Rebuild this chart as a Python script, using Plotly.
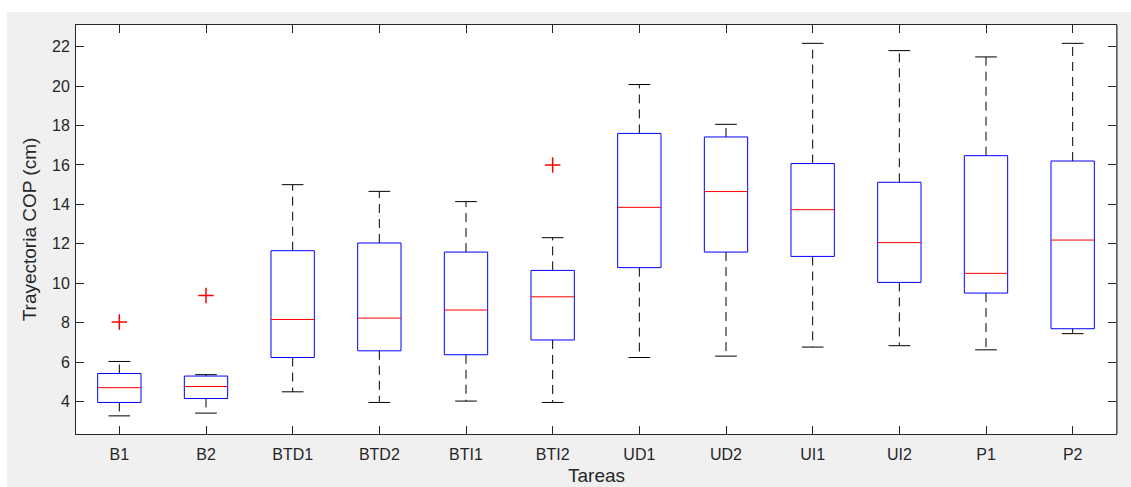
import plotly.graph_objects as go

categories = ["B1", "B2", "BTD1", "BTD2", "BTI1", "BTI2", "UD1", "UD2", "UI1", "UI2", "P1", "P2"]
lower_whisker = [3.27, 3.41, 4.49, 3.95, 4.02, 3.95, 6.23, 6.30, 6.76, 6.83, 6.62, 7.44]
q1 = [3.95, 4.15, 6.23, 6.57, 6.37, 7.12, 10.79, 11.58, 11.36, 10.04, 9.50, 7.69]
median = [4.70, 4.76, 8.16, 8.23, 8.64, 9.31, 13.85, 14.65, 13.73, 12.06, 10.50, 12.19]
q3 = [5.42, 5.29, 11.65, 12.04, 11.58, 10.65, 17.60, 17.42, 16.07, 15.12, 16.47, 16.20]
upper_whisker = [6.03, 5.36, 15.00, 14.66, 14.14, 12.31, 20.08, 18.06, 22.17, 21.80, 21.48, 22.17]
outlier_cat = ["B1", "B2", "BTI2"]
outlier_val = [8.03, 9.38, 16.0]

y_ticks = [4, 6, 8, 10, 12, 14, 16, 18, 20, 22]
BOX_W = 0.5
CAP_W = 0.25

pos = {c: i + 1 for i, c in enumerate(categories)}

wx, wy, cx, cy, bx, by, mx, my = [], [], [], [], [], [], [], []
for c, lo, a, m, b, hi in zip(categories, lower_whisker, q1, median, q3, upper_whisker):
    p = pos[c]
    wx += [p, p, None, p, p, None]
    wy += [b, hi, None, a, lo, None]
    cx += [p - CAP_W / 2, p + CAP_W / 2, None, p - CAP_W / 2, p + CAP_W / 2, None]
    cy += [hi, hi, None, lo, lo, None]
    bx += [p - BOX_W / 2, p + BOX_W / 2, p + BOX_W / 2, p - BOX_W / 2, p - BOX_W / 2, None]
    by += [a, a, b, b, a, None]
    mx += [p - BOX_W / 2, p + BOX_W / 2, None]
    my += [m, m, None]

fig = go.Figure()
fig.add_trace(go.Scatter(x=wx, y=wy, mode="lines", line=dict(color="black", width=1, dash="9px,6px"),
                         hoverinfo="skip", showlegend=False))
fig.add_trace(go.Scatter(x=cx, y=cy, mode="lines", line=dict(color="black", width=1),
                         hoverinfo="skip", showlegend=False))
fig.add_trace(go.Scatter(x=bx, y=by, mode="lines", line=dict(color="#0000ff", width=1),
                         hoverinfo="skip", showlegend=False))
fig.add_trace(go.Scatter(x=mx, y=my, mode="lines", line=dict(color="#ff0000", width=1),
                         hoverinfo="skip", showlegend=False))
fig.add_trace(go.Scatter(x=[pos[c] for c in outlier_cat], y=outlier_val, mode="markers",
                         marker=dict(symbol="cross-thin", size=11, line=dict(color="#ff0000", width=1.5)),
                         hoverinfo="skip", showlegend=False))

W, H = 1131, 487
L, R, T, B = 76, 15, 25, 53
pw, ph = W - L - R, H - T - B

fig.update_layout(
    width=W, height=H,
    margin=dict(l=L, r=R, t=T, b=B, autoexpand=False),
    paper_bgcolor="#f0f0f0",
    plot_bgcolor="white",
    font=dict(family="Liberation Sans, Arial, sans-serif", size=16, color="#262626"),
    xaxis=dict(
        range=[0.5, 12.5], automargin=False,
        tickmode="array", tickvals=list(range(1, len(categories) + 1)), ticktext=categories,
        ticks="inside", ticklen=8, tickcolor="#262626",
        showline=True, linecolor="#262626", linewidth=1, mirror="ticks",
        showgrid=False, zeroline=False, ticklabelstandoff=6,
    ),
    yaxis=dict(
        range=[2.35, 23.1], automargin=False,
        tickmode="array", tickvals=y_ticks,
        ticks="inside", ticklen=8, tickcolor="#262626",
        showline=True, linecolor="#262626", linewidth=1, mirror="ticks",
        showgrid=False, zeroline=False, ticklabelstandoff=2,
        title=dict(text="Trayectoria COP (cm)", font=dict(size=19), standoff=10),
    ),
    annotations=[
        dict(text="Tareas", xref="paper", yref="paper", x=0.5, y=0, xanchor="center",
             yanchor="middle", yshift=-41, showarrow=False, font=dict(size=19, color="#262626")),
    ],
    shapes=[
        dict(type="rect", xref="paper", yref="paper", layer="below",
             x0=-L / pw - 0.01, x1=1 + R / pw + 0.01, y0=1 + (T - 12) / ph, y1=1 + T / ph + 0.01,
             fillcolor="white", line=dict(width=0)),
        dict(type="rect", xref="paper", yref="paper", layer="below",
             x0=-L / pw - 0.01, x1=-(L - 7) / pw, y0=-B / ph - 0.01, y1=1 + T / ph + 0.01,
             fillcolor="white", line=dict(width=0)),
        dict(type="line", xref="paper", yref="paper", layer="above",
             x0=1 + 1.2 / pw, x1=1 + 1.2 / pw, y0=0, y1=1,
             line=dict(color="#8a8a8a", width=1.5)),
    ],
)

fig.write_html("out.html", config={"displayModeBar": False},
               post_script="document.body.style.margin='0';document.body.style.overflow='hidden';")
